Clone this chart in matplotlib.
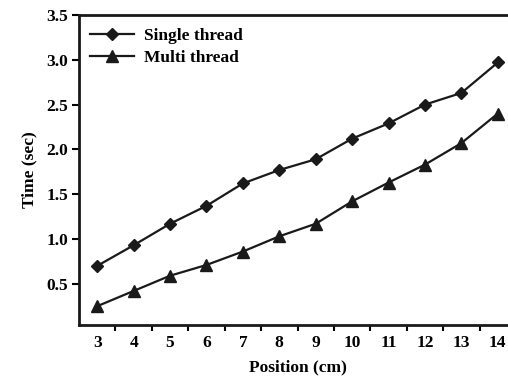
import matplotlib
matplotlib.use("Agg")
import matplotlib.pyplot as plt

plt.rcParams['font.family'] = ['Liberation Serif', 'DejaVu Serif']

posiciones = [3, 4, 5, 6, 7, 8, 9, 10, 11, 12, 13, 14]
single_thread = [0.70, 0.93, 1.17, 1.37, 1.62, 1.77, 1.89, 2.12, 2.29, 2.50, 2.63, 2.97]
multi_thread = [0.25, 0.42, 0.59, 0.71, 0.86, 1.03, 1.17, 1.42, 1.63, 1.83, 2.07, 2.40]

fs = 12.5

fig = plt.figure(figsize=(5.08, 3.84), dpi=100)
ax = fig.add_axes([79/508, 1 - 325/384, (516 - 79)/508, (325 - 15)/384])

ax.plot(posiciones, single_thread, color='#1a1a1a', lw=1.6, marker='D', ms=6.5, label='Single thread')
ax.plot(posiciones, multi_thread, color='#1a1a1a', lw=1.6, marker='^', ms=8, label='Multi thread')

ax.set_xlim(2.5, 14.5)
ax.set_ylim(0.04, 3.5)
ax.set_yticks([0.5, 1.0, 1.5, 2.0, 2.5, 3.0, 3.5])
ax.set_yticklabels(['0.5', '1.0', '1.5', '2.0', '2.5', '3.0', '3.5'])
ax.set_xticks(posiciones)
ax.set_xticks([p + 0.5 for p in posiciones[:-1]], minor=True)
ax.tick_params(axis='x', which='major', length=0, pad=7)
ax.tick_params(axis='x', which='minor', length=4, width=1.5, direction='out')
ax.tick_params(axis='y', length=5, width=1.5, direction='out', pad=3)
for lab in ax.get_xticklabels() + ax.get_yticklabels():
    lab.set_fontsize(fs)
    lab.set_fontweight('bold')

for s in ['left', 'bottom', 'top']:
    ax.spines[s].set_linewidth(2)
    ax.spines[s].set_color('#1a1a1a')
ax.spines['right'].set_visible(False)

ax.set_xlabel('Position (cm)', fontsize=fs, fontweight='bold', labelpad=6)
ax.set_ylabel('Time (sec)', fontsize=fs, fontweight='bold', labelpad=6)

leg = ax.legend(loc='upper left', frameon=False, fontsize=fs, handlelength=2.5,
                borderaxespad=0.0, labelspacing=0.3, handletextpad=0.6,
                bbox_to_anchor=(0.01, 0.98))
for t in leg.get_texts():
    t.set_fontweight('bold')

fig.savefig('out.png', dpi=100)
